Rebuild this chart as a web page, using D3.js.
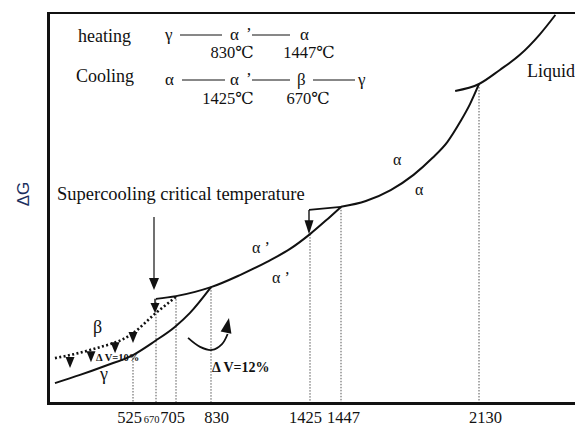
<!DOCTYPE html>
<html lang="en">
<head>
<meta charset="UTF-8"/>
<title>Free energy of the phases against temperature</title>
<script src="https://d3js.org/d3.v7.min.js"></script>
<style>
    body { margin: 0; background: #fff; }
    svg { display: block; }
    .serif { font-family: "Liberation Serif", "DejaVu Serif", serif; }
</style>
</head>
<body>
<script>
    // chart size
    var w = 575;
    var h = 428;

    // temperatures marked under the axis (the axis is broken, not linear)
    var tempTicks = [525, 670, 705, 830, 1425, 1447, 2130];
    // pixel breakpoints of the broken axis
    var tickPos = [133, 156, 176, 211, 310, 341, 479];
    // where each dotted drop line leaves its curve (ΔG)
    var dropTops = [12.3, 26.7, 27.4, 29.7, 43.3, 50.3, 81.8];

    // curves, temperature and ΔG
    var gammaT = [33, 191, 348, 525, 664, 703, 755, 830];
    var gammaG = [5.1, 7.2, 9.5, 12.3, 15.9, 19.5, 23.1, 29.7];
    var betaT = [33, 254, 525, 670, 705];
    var betaG = [11.5, 13.6, 17.9, 23.1, 27.2];
    var alphaPT = [670, 705, 773, 830, 1004, 1167, 1305, 1425, 1436, 1447];
    var alphaPG = [26.7, 27.4, 28.5, 29.7, 32.8, 36.2, 39.5, 43.3, 46.7, 50.3];
    var alphaT = [1447, 1570, 1693, 1806, 1899, 1973, 2037, 2086, 2130];
    var alphaG = [50.3, 51.8, 54.6, 58.5, 62.8, 66.9, 72.1, 76.7, 81.8];
    var liquidT = [2012, 2130, 2233, 2331, 2429, 2508];
    var liquidG = [80.0, 81.8, 85.4, 89.2, 94.4, 99.5];

    // small β -> γ arrows along the dotted curve
    var markT = [128, 260, 412, 525];
    var markG = [11.8, 13.3, 15.6, 18.2];

    // the ΔV=12% turning arrow
    var turnT = [748, 791, 836, 896, 930];
    var turnG = [16.7, 14.4, 13.6, 15.1, 17.7];

    function zip(a, b) {
        return a.map(function (d, i) { return [d, b[i]]; });
    }

    var x = d3.scaleLinear().domain(tempTicks).range(tickPos);
    var y = d3.scaleLinear().domain([0, 100]).range([403, 13]);

    var svg = d3.select("body").append("svg")
        .attr("width", w)
        .attr("height", h);

    var line = d3.line()
        .x(function (d) { return x(d[0]); })
        .y(function (d) { return y(d[1]); })
        .curve(d3.curveMonotoneX);

    // arrow head as a filled triangle, tip at (tx,ty), pointing along (dx,dy)
    function head(tx, ty, dx, dy, len, hw) {
        var n = Math.sqrt(dx * dx + dy * dy);
        dx /= n; dy /= n;
        var bx = tx - dx * len, by = ty - dy * len;
        var pts = [[tx, ty], [bx - dy * hw, by + dx * hw], [bx + dy * hw, by - dx * hw]];
        svg.append("polygon")
            .attr("points", pts.map(function (p) { return p.join(","); }).join(" "))
            .attr("fill", "#111");
    }

    // dotted drop lines
    svg.selectAll(".drop")
        .data(tempTicks)
        .enter()
        .append("line")
        .attr("class", "drop")
        .attr("x1", function (d) { return x(d); })
        .attr("x2", function (d) { return x(d); })
        .attr("y1", function (d, i) { return y(dropTops[i]); })
        .attr("y2", y(0))
        .attr("stroke", "#555")
        .attr("stroke-width", 1)
        .attr("stroke-dasharray", "1.5,1.5");

    // frame
    svg.append("line").attr("x1", 48.5).attr("x2", 48.5).attr("y1", 12).attr("y2", 405)
        .attr("stroke", "#111").attr("stroke-width", 3);
    svg.append("line").attr("x1", 47).attr("x2", w).attr("y1", 13).attr("y2", 13)
        .attr("stroke", "#111").attr("stroke-width", 2);
    svg.append("line").attr("x1", 47).attr("x2", w).attr("y1", 403.5).attr("y2", 403.5)
        .attr("stroke", "#111").attr("stroke-width", 3);

    // curves
    [zip(gammaT, gammaG), zip(alphaPT, alphaPG), zip(alphaT, alphaG), zip(liquidT, liquidG)]
        .forEach(function (c) {
            svg.append("path")
                .attr("d", line(c))
                .attr("fill", "none")
                .attr("stroke", "#111")
                .attr("stroke-width", 2);
        });

    svg.append("path")
        .attr("d", line(zip(betaT, betaG)))
        .attr("fill", "none")
        .attr("stroke", "#111")
        .attr("stroke-width", 2.6)
        .attr("stroke-dasharray", "2,2.4");

    // bracket at 1425 / 1447
    svg.append("line")
        .attr("x1", x(1425) - 1).attr("x2", x(1447))
        .attr("y1", y(49.5)).attr("y2", y(50.3))
        .attr("stroke", "#111").attr("stroke-width", 1.8);
    svg.append("line")
        .attr("x1", x(1425) - 1).attr("x2", x(1425) - 1)
        .attr("y1", y(49.5)).attr("y2", y(46.5))
        .attr("stroke", "#111").attr("stroke-width", 1.4);
    head(x(1425) - 1, y(43.3), 0, 1, 14, 4.5);

    // bracket at 670
    svg.append("line")
        .attr("x1", x(670) - 1).attr("x2", x(670) - 1)
        .attr("y1", y(26.7)).attr("y2", y(25.5))
        .attr("stroke", "#111").attr("stroke-width", 1.4);
    head(x(670) - 1, y(23.1), 0, 1, 10, 4.5);

    // supercooling arrow
    svg.append("line")
        .attr("x1", x(670) - 2).attr("x2", x(670) - 2)
        .attr("y1", y(47.7)).attr("y2", y(31))
        .attr("stroke", "#111").attr("stroke-width", 1.2);
    head(x(670) - 2, y(29.0), 0, 1, 12, 5);

    // β -> γ markers
    markT.forEach(function (t, i) {
        head(x(t), y(markG[i]) + 11, 0, 1, 11, 4.5);
    });

    // turning arrow for ΔV=12%
    svg.append("path")
        .attr("d", d3.line()
            .x(function (d) { return x(d[0]); })
            .y(function (d) { return y(d[1]); })
            .curve(d3.curveCatmullRom)(zip(turnT, turnG)))
        .attr("fill", "none")
        .attr("stroke", "#111")
        .attr("stroke-width", 1.8);
    head(x(938), y(21.8), 1, -5, 15, 5.5);

    // axis labels (nudged like the printed figure)
    var labelShift = { 525: -4, 670: -5, 705: -4, 830: 5, 1425: -5, 1447: 2, 2130: 6 };
    var axis = d3.axisBottom(x).tickValues(tempTicks).tickSize(0).tickPadding(0)
        .tickFormat(d3.format("d"));
    var gx = svg.append("g").attr("transform", "translate(0," + 403 + ")").call(axis);
    gx.select(".domain").remove();
    gx.selectAll("text")
        .attr("class", "serif")
        .attr("dy", null)
        .attr("y", 20)
        .attr("x", function (d) { return labelShift[d]; })
        .attr("fill", "#111")
        .attr("font-size", function (d) { return d === 670 ? "10.5px" : "16.5px"; });

    // texts
    function txt(s, tx, ty, size, opts) {
        opts = opts || {};
        return svg.append("text")
            .attr("class", "serif")
            .attr("x", tx).attr("y", ty)
            .attr("font-size", size + "px")
            .attr("font-weight", opts.bold ? "bold" : null)
            .attr("text-anchor", opts.anchor || "start")
            .attr("fill", "#111")
            .text(s);
    }

    txt("heating", 78, 42, 18);
    txt("Cooling", 76, 82, 18);

    txt("γ", 165, 40, 17);
    txt("α", 230, 40, 17);
    txt("’", 246, 39, 17);
    txt("α", 300, 40, 17);
    txt("830℃", 232, 58, 16.5, { anchor: "middle" });
    txt("1447℃", 309, 58, 16.5, { anchor: "middle" });

    txt("α", 165, 85, 17);
    txt("α", 230, 85, 17);
    txt("’", 246, 84, 17);
    txt("β", 297, 85, 17);
    txt("γ", 358, 85, 17);
    txt("1425℃", 228, 104, 16.5, { anchor: "middle" });
    txt("670℃", 308, 104, 16.5, { anchor: "middle" });

    [[180, 222, 35], [252, 290, 35], [182, 225, 80], [252, 290, 80], [313, 355, 80]]
        .forEach(function (s) {
            svg.append("line")
                .attr("x1", s[0]).attr("x2", s[1])
                .attr("y1", s[2]).attr("y2", s[2])
                .attr("stroke", "#111").attr("stroke-width", 1);
        });

    txt("Liquid", 527, 77, 18);
    txt("Supercooling critical temperature", 57, 200, 18.5);

    txt("α ’", 252, 253, 16);
    txt("α ’", 272, 283, 16);
    txt("α", 393, 165, 16);
    txt("α", 415, 195, 16);
    txt("β", 93, 333, 18);
    txt("γ", 100, 380, 18);
    txt("Δ V=10%", 96, 361, 10.5, { bold: true });
    txt("Δ V=12%", 212, 372, 14, { bold: true });

    // ΔG axis title
    svg.append("text")
        .attr("transform", "translate(29,194) rotate(-90)")
        .attr("text-anchor", "middle")
        .attr("font-family", "Liberation Sans, Arial, sans-serif")
        .attr("font-size", "17px")
        .attr("fill", "#1c2f5e")
        .text("ΔG");
</script>
</body>
</html>
